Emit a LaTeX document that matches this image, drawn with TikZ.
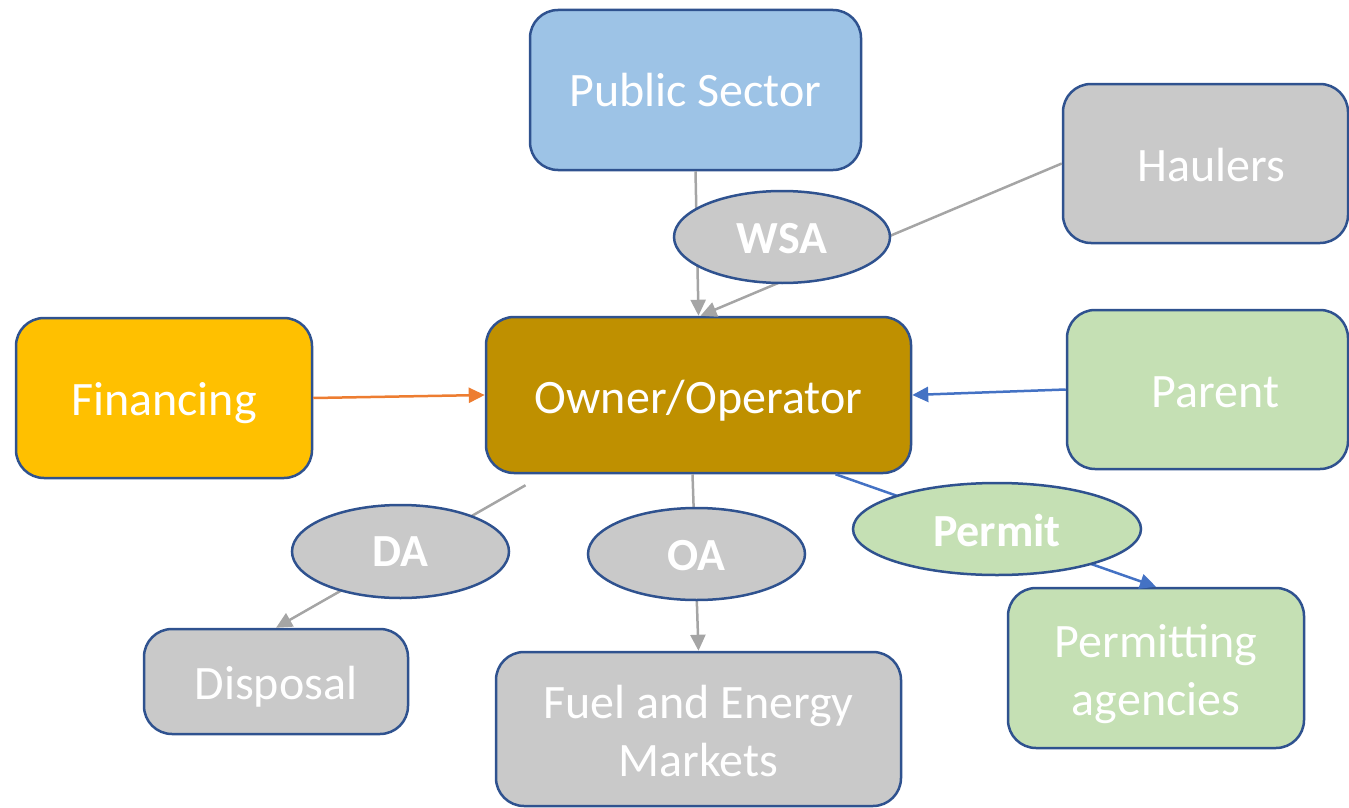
\documentclass[tikz,border=0pt]{standalone}
\usepackage{fontspec}
\setmainfont{Carlito}
\usetikzlibrary{arrows.meta,shapes.geometric,calc}
\definecolor{bord}{HTML}{2F528F}
\definecolor{pubfill}{HTML}{9DC3E6}
\definecolor{grayfill}{HTML}{C9C9C9}
\definecolor{finfill}{HTML}{FFC000}
\definecolor{ownfill}{HTML}{BF9000}
\definecolor{greenfill}{HTML}{C5E0B4}
\definecolor{conngray}{HTML}{A5A5A5}
\definecolor{connblue}{HTML}{4472C4}
\definecolor{connorange}{HTML}{ED7D31}
\newcommand{\lowtxt}[2][-6pt]{\raisebox{#1}[\height][\depth]{#2}}
\newcommand{\lowtwo}[2]{\raisebox{-7pt}[\height][\depth]{\begin{tabular}{@{}c@{}}#1\\#2\end{tabular}}}
\begin{document}
\begin{tikzpicture}[x=1pt,y=-1pt,
  box/.style={draw=bord, line width=2.5pt, rounded corners=28pt, text=white,
    font=\fontsize{48}{57.6}\selectfont, align=center, inner sep=0pt, shape=rectangle},
  oval/.style={draw=bord, line width=2.5pt, ellipse, text=white,
    font=\fontsize{46}{55}\selectfont\bfseries, inner sep=0pt, fill=grayfill},
  conn/.style={line width=2.5pt, -{Triangle[length=16pt,width=15pt]}}
]
\useasboundingbox (0,0) rectangle (1349,808);
% boxes
\node[box, fill=pubfill, minimum width=331pt, minimum height=160pt] (pub) at (695.5,90) {\lowtxt[0pt]{Public Sector}};
\node[box, fill=grayfill, minimum width=285pt, minimum height=159pt] (haul) at (1205.5,163.5) {\lowtxt[-2pt]{\hspace*{12pt}Haulers}};
\node[box, fill=finfill, minimum width=296pt, minimum height=160pt] (fin) at (164,398) {\lowtxt[-5pt]{Financing}};
\node[box, fill=ownfill, minimum width=425pt, minimum height=156pt] (own) at (698.5,395) {\lowtxt[-6pt]{Owner/Operator}};
\node[box, fill=greenfill, minimum width=281pt, minimum height=159pt] (par) at (1207.5,389.5) {\lowtxt[-3pt]{\hspace*{16pt}Parent}};
\node[box, fill=grayfill, minimum width=264pt, minimum height=105pt] (disp) at (276,681.5) {\lowtxt[-5pt]{Disposal}};
\node[box, fill=grayfill, minimum width=405pt, minimum height=154pt] (fuel) at (698.5,729) {\lowtwo{Fuel and Energy}{Markets}};
\node[box, fill=greenfill, minimum width=296pt, minimum height=160pt] (perm) at (1156,668) {\lowtwo{Permitting}{agencies}};
% connectors
\draw[conn, conngray] (pub.south) -- (own.north);
\draw[conn, conngray] (haul.west) -- ([xshift=2pt]own.north);
\draw[conn, conngray] ([xshift=-173pt,yshift=-11pt]own.south) -- (disp.north);
\draw[conn, conngray] ([xshift=-6pt]own.south) -- (fuel.north);
\draw[conn, connblue] ([xshift=137pt]own.south) -- (perm.north);
\draw[conn, connorange] (fin.east) -- (own.west);
\draw[conn, connblue] (par.west) -- (own.east);
% ovals
\node[oval, minimum width=216pt, minimum height=92pt] (wsa) at (782,237) {\lowtxt[-2pt]{WSA}};
\node[oval, minimum width=217pt, minimum height=93pt] (da) at (400.5,551.5) {DA};
\node[oval, minimum width=217pt, minimum height=92pt] (oa) at (696.5,554) {\lowtxt[-2pt]{OA}};
\node[oval, fill=greenfill, minimum width=288pt, minimum height=92pt] (permit) at (997,529) {\lowtxt[-2pt]{Permit}};
\end{tikzpicture}
\end{document}
